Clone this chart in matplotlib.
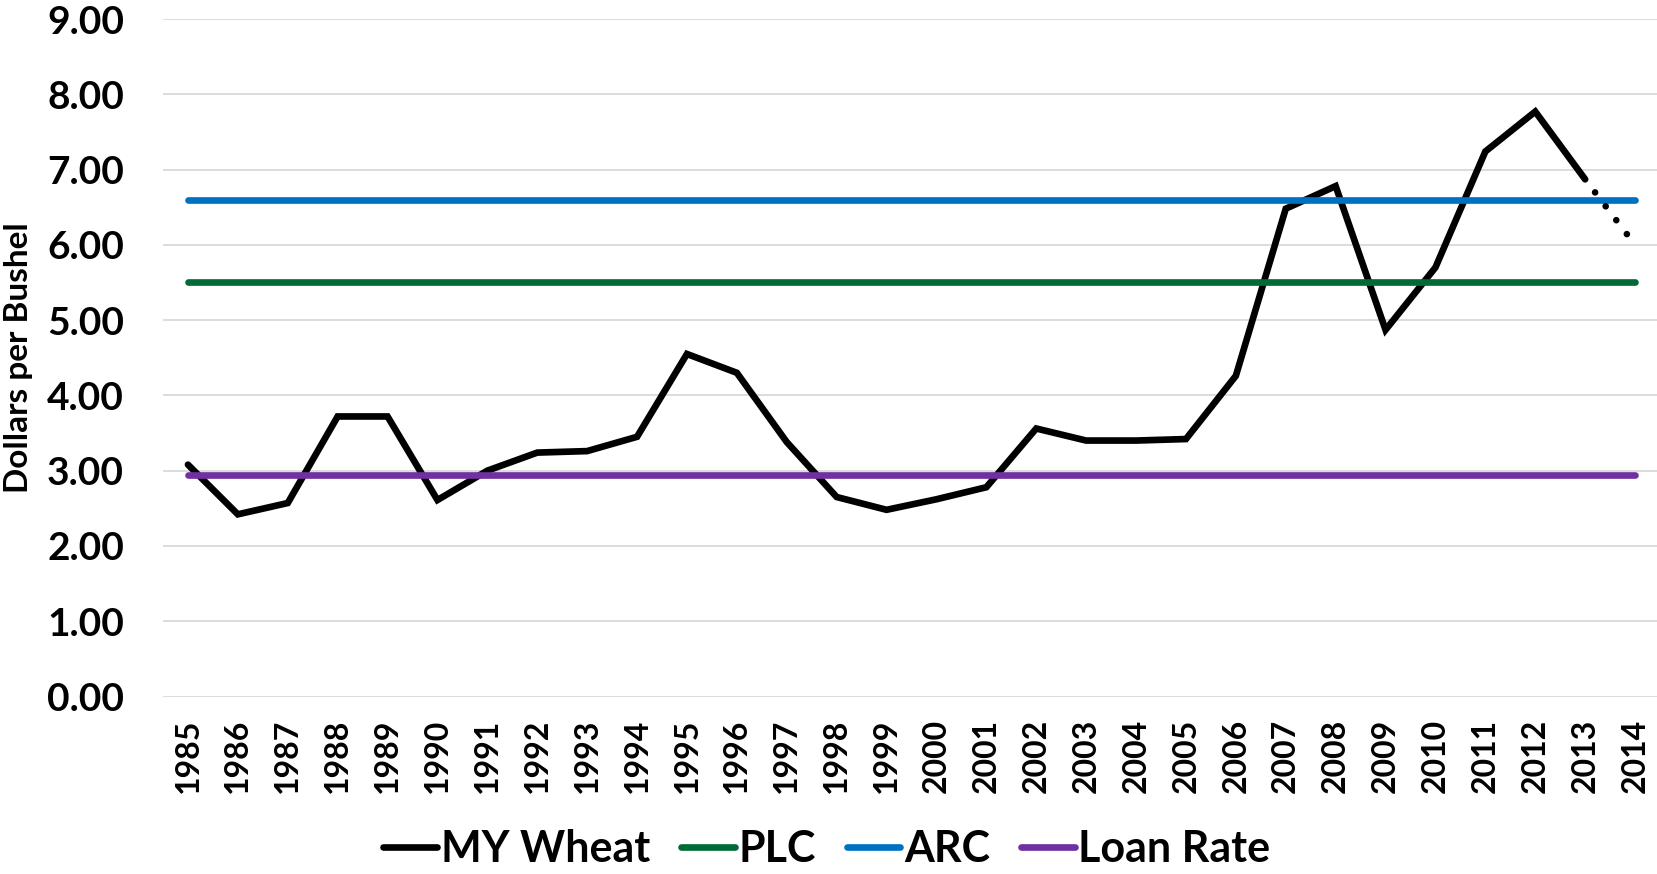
# Wheat marketing-year price vs PLC / ARC / loan rate
import numpy as np
import matplotlib
matplotlib.use('Agg')
import matplotlib.pyplot as plt

plt.rcParams['font.family'] = ['Lato', 'DejaVu Sans']
plt.rcParams['font.weight'] = 'bold'

# data
years = [str(y) for y in range(1985, 2015)]
my_wheat = [3.08, 2.42, 2.57, 3.72, 3.72, 2.61, 3.00, 3.24, 3.26, 3.45,
            4.55, 4.30, 3.38, 2.65, 2.48, 2.62, 2.78, 3.56, 3.40, 3.40,
            3.42, 4.26, 6.48, 6.78, 4.87, 5.70, 7.24, 7.77, 6.87, 6.00]
n_actual = 29  # 1985-2013 actual, 2014 projected (dotted)
plc = 5.50
arc = 6.60
loan_rate = 2.94
yticks = [0, 1, 2, 3, 4, 5, 6, 7, 8, 9]

fig = plt.figure(figsize=(16.57, 8.74), dpi=100)
ax = fig.add_axes([163/1657, 1 - 696.5/874, 1497/1657, (696.5 - 19)/874])

x = np.arange(len(years))
lw = 4.8

ax.plot(x[:n_actual], my_wheat[:n_actual], color='black', lw=lw,
        solid_capstyle='round', solid_joinstyle='miter', label='MY Wheat', zorder=3)
ax.plot(x[n_actual - 1:], my_wheat[n_actual - 1:], color='black', lw=lw,
        linestyle=(0.16, (0.001, 2.62)), dash_capstyle='round', zorder=5)
ax.plot(x, [plc] * len(x), color='#006b35', lw=lw, solid_capstyle='round', label='PLC', zorder=4)
ax.plot(x, [arc] * len(x), color='#0070c0', lw=lw, solid_capstyle='round', label='ARC', zorder=4)
ax.plot(x, [loan_rate] * len(x), color='#7030a0', lw=lw, solid_capstyle='round',
        label='Loan Rate', zorder=4)

ax.set_xlim(-0.5, len(x) - 0.5)
ax.set_ylim(0, 9)
ax.set_yticks(yticks)
ax.set_yticklabels(['%.2f' % v for v in yticks], fontsize=28, fontweight='bold')
ax.set_xticks(x)
ax.set_xticklabels(years, rotation=90, fontsize=23, fontweight='bold')
ax.tick_params(axis='both', length=0)
ax.tick_params(axis='y', pad=28)
ax.tick_params(axis='x', pad=16)
ax.grid(axis='y', color='#d9d9d9', lw=1.3)
ax.set_axisbelow(True)
for s in ax.spines.values():
    s.set_visible(False)

ax.set_ylabel('Dollars per Bushel', fontsize=24, fontweight='bold')
ax.yaxis.set_label_coords(-0.087, 0.5)

fig.legend(loc='center', bbox_to_anchor=(0.499, 0.029), ncol=4, frameon=False,
           handlelength=1.25, handletextpad=0.08, columnspacing=0.72,
           prop={'weight': 'bold', 'size': 31})

fig.savefig('out.png', dpi=100)
